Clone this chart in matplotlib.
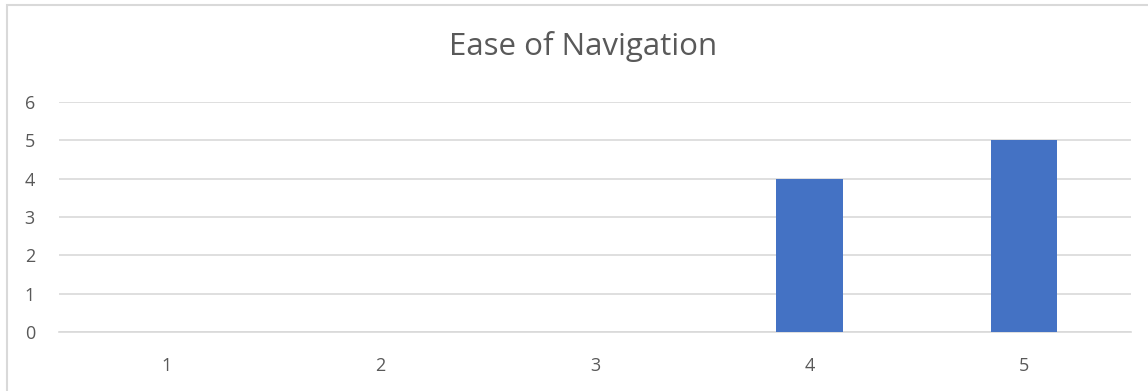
import matplotlib
matplotlib.use("Agg")
from matplotlib import pyplot as plt
from matplotlib.patches import Rectangle

categories = ["1", "2", "3", "4", "5"]
counts = [0, 0, 0, 4, 5]
y_ticks = [0, 1, 2, 3, 4, 5, 6]

W, H = 1148, 391
fig = plt.figure(figsize=(W / 100, H / 100), dpi=100)
plt.rcParams['font.family'] = ['Open Sans', 'DejaVu Sans']

# chart frame (only left/top visible in the crop)
fig.patches.append(Rectangle((7 / W, -0.1), 1.2, (H - 5) / H + 0.1, transform=fig.transFigure,
                             fill=False, edgecolor='#d9d9d9', linewidth=1.5))

ax = fig.add_axes([59 / W, (H - 332) / H, (1131 - 59) / W, (332 - 102) / H])
x = range(1, len(categories) + 1)
ax.bar(x, counts, width=0.31, color='#4472c4', zorder=3)

ax.set_xlim(0.5, 5.5)
ax.set_ylim(0, 6)
ax.set_xticks(list(x))
ax.set_xticklabels(categories)
ax.set_yticks(y_ticks)
ax.yaxis.grid(True, color='#d9d9d9', linewidth=1.2, zorder=0)
for s in ['top', 'right', 'left']:
    ax.spines[s].set_visible(False)
ax.spines['bottom'].set_color('#d9d9d9')
ax.spines['bottom'].set_linewidth(1.2)
ax.tick_params(length=0, labelsize=13, labelcolor='#595959')
ax.tick_params(axis='y', pad=21)
ax.tick_params(axis='x', pad=18)
for lbl in ax.get_yticklabels():
    lbl.set_horizontalalignment('center')

fig.text(583 / W, 1 - 47 / H, "Ease of Navigation", ha='center', va='center',
         fontsize=22.5, color='#595959')

fig.savefig("out.png", dpi=100)
